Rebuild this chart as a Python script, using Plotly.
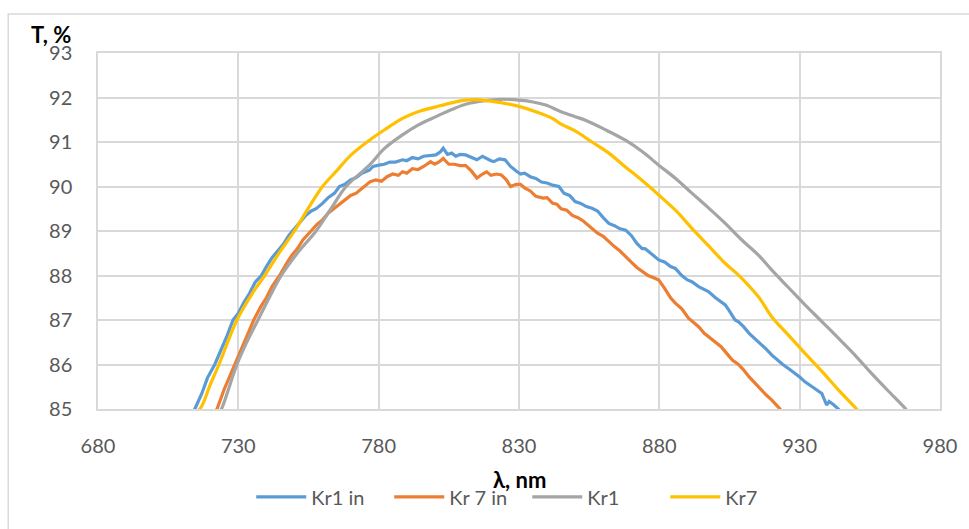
import plotly.graph_objects as go

# Wavelength (nm) and transmittance (%) for each sample
kr1_in_nm = [713, 714.5, 717, 719, 721.6, 724, 726, 728.1, 730, 732, 734, 736, 738.2, 740, 742, 744,
             746, 748, 749.4, 752, 754, 756, 757.7, 760, 762, 764.3, 766, 768, 770, 772, 774, 776.7,
             778, 780, 782, 784, 786, 788.5, 790, 792, 794, 796, 798, 800.4, 802, 803, 804.5, 806,
             807.5, 809, 811, 813, 815, 817, 818.5, 820, 821, 823, 825, 827, 829, 830.5, 832, 834,
             836, 838, 840, 842, 844.2, 846, 848, 850, 852, 854, 856, 858, 860, 862, 864, 866, 868,
             870, 872, 873.8, 875, 877, 879.8, 882, 884, 885.7, 888, 890, 891.6, 894, 896, 897.5,
             900, 902, 903.5, 905, 907, 908.2, 910, 912, 914, 916, 918, 920.1, 922, 924, 926, 928,
             930, 931.9, 934, 936, 937.9, 939.6, 940.5, 942, 943.8, 945]
kr1_in_t = [84.9, 85.0, 85.35, 85.7, 86.0, 86.35, 86.65, 87.0, 87.15, 87.4, 87.6, 87.85, 88.0, 88.2,
            88.4, 88.55, 88.7, 88.9, 89.0, 89.2, 89.35, 89.45, 89.5, 89.62, 89.75, 89.85, 90.0, 90.05,
            90.15, 90.2, 90.3, 90.37, 90.45, 90.48, 90.5, 90.55, 90.55, 90.6, 90.58, 90.65, 90.62,
            90.68, 90.7, 90.71, 90.78, 90.86, 90.72, 90.75, 90.68, 90.72, 90.71, 90.65, 90.6, 90.68,
            90.62, 90.58, 90.56, 90.62, 90.6, 90.45, 90.35, 90.28, 90.3, 90.22, 90.18, 90.1, 90.08,
            90.03, 90.0, 89.85, 89.8, 89.66, 89.62, 89.55, 89.51, 89.45, 89.3, 89.17, 89.12, 89.05,
            89.02, 88.9, 88.72, 88.61, 88.6, 88.5, 88.35, 88.3, 88.2, 88.16, 88.0, 87.9, 87.86, 87.75,
            87.68, 87.64, 87.5, 87.4, 87.34, 87.2, 87.0, 86.96, 86.85, 86.7, 86.59, 86.48, 86.35,
            86.21, 86.1, 86.0, 85.91, 85.82, 85.72, 85.61, 85.52, 85.42, 85.35, 85.09, 85.17, 85.1,
            85.0, 84.9]

kr7_in_nm = [721, 722.4, 725, 728.7, 731, 733, 735.5, 738, 740, 742, 744.7, 747, 749, 751, 753, 755.9,
             758, 760, 762, 764, 766, 768, 770, 772, 774, 777, 779, 781, 783, 785, 787, 788.5, 790,
             792, 794, 796, 798.5, 800, 801.5, 803, 805, 807, 809, 811, 813, 815, 817, 818.5, 820,
             822, 823.7, 825.5, 827, 829, 830.5, 832, 834, 836, 838.6, 840, 842, 843.5, 845, 847,
             849, 851, 853, 856, 858, 860, 862, 864, 866, 867.9, 870, 872, 873.8, 876, 878, 879.8,
             882, 884, 885.7, 888, 890.4, 892, 894, 896, 898, 900, 902, 904, 906, 908.2, 910, 912,
             914, 916, 918, 920.1, 922, 923, 924]
kr7_in_t = [84.9, 85.0, 85.45, 86.0, 86.3, 86.6, 87.0, 87.3, 87.5, 87.75, 88.0, 88.25, 88.45, 88.6,
            88.8, 89.0, 89.15, 89.25, 89.4, 89.5, 89.6, 89.7, 89.8, 89.85, 89.95, 90.11, 90.15, 90.12,
            90.22, 90.28, 90.25, 90.33, 90.3, 90.4, 90.38, 90.45, 90.56, 90.5, 90.55, 90.63, 90.5,
            90.5, 90.47, 90.47, 90.35, 90.19, 90.28, 90.33, 90.25, 90.28, 90.26, 90.15, 90.0, 90.05,
            90.05, 89.97, 89.9, 89.78, 89.74, 89.75, 89.62, 89.6, 89.5, 89.47, 89.35, 89.3, 89.22,
            89.06, 88.95, 88.88, 88.76, 88.65, 88.55, 88.42, 88.3, 88.18, 88.09, 88.0, 87.95, 87.9,
            87.7, 87.5, 87.38, 87.25, 87.04, 86.95, 86.85, 86.7, 86.6, 86.5, 86.4, 86.25, 86.1, 86.0,
            85.88, 85.72, 85.58, 85.45, 85.32, 85.2, 85.08, 85.0, 84.9]

kr1_nm = [723, 724, 729.5, 733, 737, 741, 745.3, 751, 757.7, 763, 768.4, 776.7, 782, 788.5, 794,
          800.4, 806, 811, 818, 823.7, 830, 835, 839.5, 845, 850, 853.7, 860, 867.9, 874, 879.8,
          886, 891.6, 897.5, 903.5, 909, 915.3, 920.1, 926, 931.9, 938, 943.8, 950, 955.6, 961.5,
          967.5, 969]
kr1_t = [84.9, 85.0, 86.0, 86.5, 87.0, 87.5, 88.0, 88.5, 89.0, 89.5, 90.0, 90.48, 90.85, 91.16,
         91.38, 91.57, 91.73, 91.85, 91.93, 91.96, 91.94, 91.9, 91.83, 91.68, 91.57, 91.49, 91.3,
         91.04, 90.78, 90.48, 90.17, 89.85, 89.52, 89.17, 88.82, 88.46, 88.12, 87.73, 87.34, 86.96,
         86.59, 86.19, 85.8, 85.41, 85.02, 84.9]

kr7_nm = [714, 716.3, 720, 723.1, 729.5, 735, 739.4, 745, 750, 755, 760, 765, 770, 776.7, 782,
          788.5, 794, 800.4, 806, 811, 815, 818.2, 824, 830, 836, 841.9, 845, 850, 856, 862, 867.9,
          874, 879.8, 886, 891.6, 897.5, 903.5, 908.2, 915.3, 920.1, 926, 931.9, 938, 943.8, 950.3,
          952]
kr7_t = [84.92, 85.0, 85.55, 86.0, 87.0, 87.6, 88.0, 88.55, 89.0, 89.52, 90.0, 90.35, 90.7, 91.04,
         91.27, 91.53, 91.68, 91.79, 91.88, 91.94, 91.95, 91.93, 91.88, 91.8, 91.68, 91.53, 91.4,
         91.25, 91.0, 90.75, 90.44, 90.13, 89.81, 89.45, 89.06, 88.67, 88.27, 88.01, 87.52, 87.07,
         86.66, 86.25, 85.84, 85.43, 85.0, 84.88]

x_ticks = [680, 730, 780, 830, 880, 930, 980]
y_ticks = [85, 86, 87, 88, 89, 90, 91, 92, 93]

series = [
    ("Kr1 in", kr1_in_nm, kr1_in_t, "#5B9BD5", "linear"),
    ("Kr 7 in", kr7_in_nm, kr7_in_t, "#ED7D31", "linear"),
    ("Kr1", kr1_nm, kr1_t, "#A5A5A5", "spline"),
    ("Kr7", kr7_nm, kr7_t, "#FFC000", "spline"),
]

FONT = "Lato, 'Open Sans', sans-serif"
GRID = "#d9d9d9"

fig = go.Figure()
for name, xs, ys, color, shape in series:
    fig.add_trace(go.Scatter(
        x=xs, y=ys, name=name, mode="lines",
        line=dict(color=color, width=3.2, shape=shape),
    ))

fig.update_layout(
    width=969, height=529,
    margin=dict(l=98, r=27, t=53, b=120),
    paper_bgcolor="white", plot_bgcolor="white",
    font=dict(family=FONT, size=20, color="#595959"),
    showlegend=True,
    legend=dict(
        orientation="h", x=0.182, xanchor="left", y=-0.247, yanchor="middle",
        font=dict(family=FONT, size=20, color="#595959"),
        itemwidth=50, entrywidth=73, entrywidthmode="pixels",
        bgcolor="rgba(0,0,0,0)",
    ),
    xaxis=dict(
        range=[680, 980], tickvals=x_ticks, ticktext=[str(v) for v in x_ticks],
        showgrid=True, gridcolor=GRID, gridwidth=1.5,
        showline=True, linecolor=GRID, linewidth=1.5, mirror=True,
        zeroline=False, ticks="", ticklabelstandoff=18,
    ),
    yaxis=dict(
        range=[85, 93], tickvals=y_ticks, ticktext=[str(v) for v in y_ticks],
        showgrid=True, gridcolor=GRID, gridwidth=1.5,
        showline=True, linecolor=GRID, linewidth=1.5, mirror=True,
        zeroline=False, ticks="", ticklabelstandoff=20,
    ),
    annotations=[
        dict(text="<b>T, %</b>", xref="paper", yref="paper", x=-0.0818, y=1.0506,
             xanchor="left", yanchor="middle", showarrow=False,
             font=dict(family=FONT, size=22, color="black")),
        dict(text="<b>λ, nm</b>", xref="paper", yref="paper", x=0.5, y=-0.1994,
             xanchor="center", yanchor="middle", showarrow=False,
             font=dict(family=FONT, size=22, color="black")),
    ],
    shapes=[
        dict(type="rect", xref="paper", yref="paper", x0=-0.1066, x1=1.05, y0=-0.4, y1=1.1096,
             line=dict(color=GRID, width=1.5), fillcolor="rgba(0,0,0,0)", layer="below"),
    ],
)

fig.write_html("out.html")
